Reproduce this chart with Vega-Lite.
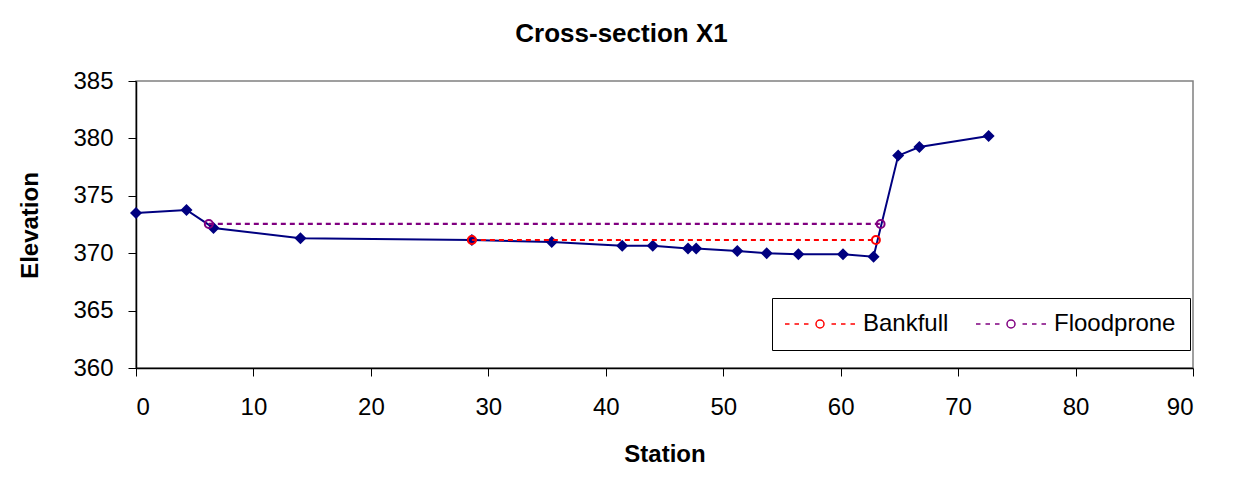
{
  "$schema": "https://vega.github.io/schema/vega-lite/v6.json",
  "autosize": {"type": "none"},
  "width": 1057,
  "height": 287,
  "padding": {"left": 136, "top": 81, "right": 42, "bottom": 121},
  "background": "white",
  "title": {
    "text": "Cross-section X1",
    "font": "Liberation Sans",
    "fontSize": 26,
    "fontWeight": "bold",
    "color": "black",
    "anchor": "middle",
    "frame": "group",
    "dx": -43,
    "offset": 22
  },
  "config": {
    "view": {"stroke": "#808080", "strokeWidth": 1.5},
    "axis": {
      "grid": false,
      "domainColor": "black",
      "domainWidth": 1.5,
      "tickColor": "black",
      "tickSize": 8,
      "tickWidth": 1,
      "labelFont": "Liberation Sans",
      "labelFontSize": 24,
      "labelColor": "black",
      "titleFont": "Liberation Sans",
      "titleFontSize": 24,
      "titleFontWeight": "bold",
      "titleColor": "black"
    }
  },
  "data": {
    "values": [
      {"series": "Ground", "station": 0, "elevation": 373.5},
      {"series": "Ground", "station": 4.3, "elevation": 373.76},
      {"series": "Ground", "station": 6.6, "elevation": 372.2},
      {"series": "Ground", "station": 14.0, "elevation": 371.3},
      {"series": "Ground", "station": 28.6, "elevation": 371.15},
      {"series": "Ground", "station": 35.4, "elevation": 370.97},
      {"series": "Ground", "station": 41.4, "elevation": 370.65},
      {"series": "Ground", "station": 44.0, "elevation": 370.65},
      {"series": "Ground", "station": 47.0, "elevation": 370.4},
      {"series": "Ground", "station": 47.7, "elevation": 370.4},
      {"series": "Ground", "station": 51.2, "elevation": 370.2},
      {"series": "Ground", "station": 53.7, "elevation": 370.0},
      {"series": "Ground", "station": 56.4, "elevation": 369.9},
      {"series": "Ground", "station": 60.2, "elevation": 369.9},
      {"series": "Ground", "station": 62.8, "elevation": 369.7},
      {"series": "Ground", "station": 64.9, "elevation": 378.5},
      {"series": "Ground", "station": 66.7, "elevation": 379.25},
      {"series": "Ground", "station": 72.6, "elevation": 380.2},
      {"series": "Bankfull", "station": 28.6, "elevation": 371.15},
      {"series": "Bankfull", "station": 63.0, "elevation": 371.15},
      {"series": "Floodprone", "station": 6.2, "elevation": 372.55},
      {"series": "Floodprone", "station": 63.4, "elevation": 372.55}
    ]
  },
  "encoding": {
    "x": {
      "field": "station",
      "type": "quantitative",
      "scale": {"domain": [0, 90], "nice": false, "zero": false},
      "axis": {
        "title": "Station",
        "values": [0, 10, 20, 30, 40, 50, 60, 70, 80, 90],
        "labelPadding": 19,
        "titleX": 528.5,
        "titleY": 93,
        "titleAlign": "center",
        "titleBaseline": "alphabetic"
      }
    },
    "y": {
      "field": "elevation",
      "type": "quantitative",
      "scale": {"domain": [360, 385], "nice": false, "zero": false},
      "axis": {
        "title": "Elevation",
        "values": [360, 365, 370, 375, 380, 385],
        "labelPadding": 15,
        "titleX": -99,
        "titleY": 144,
        "titleAngle": -90,
        "titleAlign": "center",
        "titleBaseline": "alphabetic"
      }
    }
  },
  "layer": [
    {
      "transform": [{"filter": "datum.series === 'Ground'"}],
      "mark": {
        "type": "line",
        "color": "#000080",
        "strokeWidth": 2,
        "point": {"shape": "diamond", "size": 144, "filled": true, "color": "#000080", "opacity": 1}
      },
      "encoding": {}
    },
    {
      "transform": [{"filter": "datum.series !== 'Ground'"}],
      "mark": {
        "type": "line",
        "strokeWidth": 2.2,
        "strokeDash": [5, 4],
        "point": {"shape": "circle", "size": 64, "filled": false, "strokeWidth": 2}
      },
      "encoding": {
        "color": {
          "field": "series",
          "type": "nominal",
          "scale": {"domain": ["Bankfull", "Floodprone"], "range": ["#ff0000", "#800080"]},
          "legend": {
            "orient": "none",
            "legendX": 636,
            "legendY": 217,
            "direction": "horizontal",
            "columns": 2,
            "title": null,
            "strokeColor": "black",
            "fillColor": "white",
            "padding": 14,
            "symbolType": "M-3.5,0H-3.05M-2.55,0H-2.1M-1.6,0H-1.15M0.4,0A0.4,0.4,0,1,1,-0.4,0A0.4,0.4,0,1,1,0.4,0ZM1.15,0H1.6M2.1,0H2.55M3.05,0H3.5",
            "symbolSize": 400,
            "symbolOffset": 22,
            "symbolStrokeWidth": 1.5,
            "symbolFillColor": "transparent",
            "symbolOpacity": 1,
            "labelFont": "Liberation Sans",
            "labelFontSize": 24,
            "labelColor": "black",
            "labelOffset": 31,
            "columnPadding": 24
          }
        }
      }
    }
  ]
}
